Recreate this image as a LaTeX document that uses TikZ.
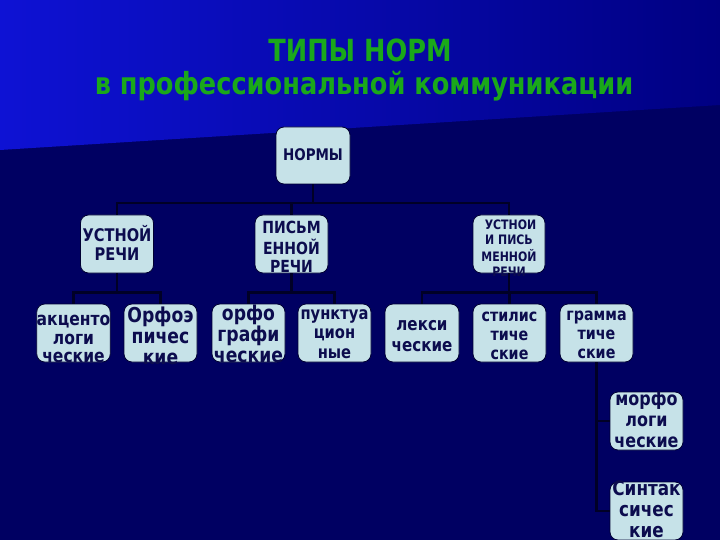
\documentclass[tikz,border=0pt]{standalone}
\usepackage{fontspec}
\setmainfont{DejaVu Sans}[FakeStretch=0.84]
\usetikzlibrary{calc}
\definecolor{bgtop}{RGB}{14,18,212}
\definecolor{bgtopr}{RGB}{0,0,130}
\definecolor{bgdark}{RGB}{0,0,98}
\definecolor{boxfill}{RGB}{198,226,232}
\definecolor{boxline}{RGB}{0,0,50}
\definecolor{boxtext}{RGB}{12,12,78}
\definecolor{titlegreen}{RGB}{26,168,26}
\definecolor{linkcol}{RGB}{0,0,38}
% optional arg: extra drop of the text block in pt
\newcommand{\boxlines}[4][0]{\raisebox{\dimexpr-6pt-#1pt\relax}[0pt][0pt]{\fontsize{#2}{#3}\selectfont\begin{tabular}{@{}c@{}}#4\end{tabular}}}

\begin{document}
\begin{tikzpicture}[x=1pt, y=-1pt,
  box/.style={draw=boxline, line width=0.8pt, fill=boxfill, rounded corners=8pt,
    minimum width=73pt, minimum height=58pt, inner sep=0pt, text=boxtext, font=\bfseries},
  link/.style={draw=linkcol, line width=2.2pt},
  title/.style={text=titlegreen, font=\bfseries\fontsize{30.5}{34}\selectfont, anchor=base, inner sep=0pt}]
  \useasboundingbox (0,0) rectangle (720,540);
  % background
  \fill[bgdark] (0,0) rectangle (720,540);
  \shade[left color=bgtop, right color=bgtopr] (0,0) -- (720,0) -- (720,105) -- (0,150) -- cycle;
  % title
  \node[title] (T1) at (360,62) {ТИПЫ НОРМ};
  \node[title] (T2) at (364,95) {в профессиональной коммуникации};
  % boxes
  \node[box, minimum width=74pt, minimum height=57pt] (N) at (313,155.5) {\boxlines{16}{19}{НОРМЫ}};
  \node[box] (U1) at (117,244) {\boxlines{17.4}{19.5}{УСТНОЙ\\РЕЧИ}};
  \node[box] (U2) at (291.5,244) {\boxlines[4]{16.7}{18}{ПИСЬМ\\ЕННОЙ\\РЕЧИ}};
  \node[box, minimum width=72pt] (U3) at (509,244) {\boxlines[3]{13}{15}{\hspace{3pt}УСТНОИ\\И ПИСЬ\\МЕННОЙ\\РЕЧИ}};
  \node[box] (B1) at (73.5,333) {\boxlines[6]{18.5}{18.5}{акценто\\логи\\ческие}};
  \node[box] (B2) at (160.5,333) {\boxlines[5]{20.5}{21}{Орфоэ\\пичес\\кие}};
  \node[box] (B3) at (248.5,333) {\boxlines[3]{20.5}{21}{орфо\\графи\\ческие}};
  \node[box] (B4) at (334.5,333) {\boxlines{17.5}{19.5}{пунктуа\\цион\\ные}};
  \node[box, minimum width=74pt] (B5) at (422,333) {\boxlines[2]{18}{21}{лекси\\ческие}};
  \node[box] (B6) at (509.5,333) {\boxlines[2]{17}{19}{стилис\\тиче\\ские}};
  \node[box] (B7) at (596.5,333) {\boxlines[1]{17}{19}{грамма\\тиче\\ские}};
  \node[box] (M) at (646.5,421) {\boxlines{19}{21}{морфо\\логи\\ческие}};
  \node[box] (S) at (646.5,511) {\boxlines{20}{21}{Синтак\\сичес\\кие}};
  % connectors
  \coordinate (K0) at (313,203);
  \coordinate (K1) at ($(U1.south)+(0,19)$);
  \coordinate (K2) at ($(U2.south)+(0,19)$);
  \coordinate (K3) at ($(U3.south)+(0,19)$);
  \draw[link] (N.south) -- (K0);
  \draw[link] (U1.north) |- (K0) -| (U3.north);
  \draw[link] (K0 -| U2.north) -- (U2.north);
  \draw[link] (U1.south) -- (K1);
  \draw[link] (B1.north) |- (K1) -| (B2.north);
  \draw[link] (U2.south) -- (K2);
  \draw[link] (B3.north) |- (K2) -| (B4.north);
  \draw[link] (U3.south) -- (K3);
  \draw[link] (B5.north) |- (K3) -| (B7.north);
  \draw[link] (K3 -| B6.north) -- (B6.north);
  \draw[link] (B7.south) |- (S.west);
  \draw[link] (M.west -| B7.south) -- (M.west);
\end{tikzpicture}
\end{document}
